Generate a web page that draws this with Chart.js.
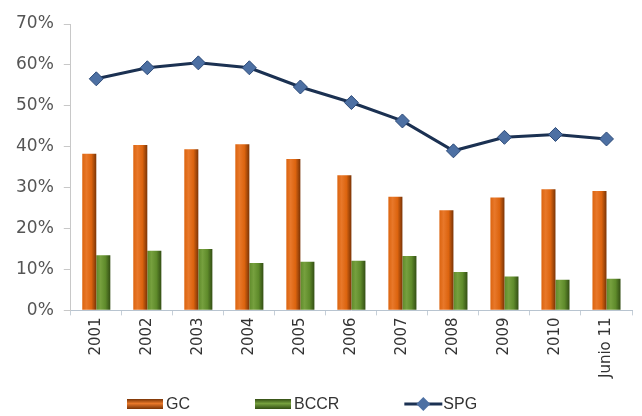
<!DOCTYPE html>
<html>
<head>
<meta charset="utf-8">
<script src="https://cdn.jsdelivr.net/npm/chart.js@4/dist/chart.umd.min.js"></script>
<style>
  html, body { margin: 0; padding: 0; background: #fff; }
  #wrap { width: 642px; height: 416px; }
</style>
</head>
<body>
<div id="wrap"><canvas id="chart"></canvas></div>
<script>
// values, in %
const years = ["2001", "2002", "2003", "2004", "2005", "2006", "2007", "2008", "2009", "2010", "Junio 11"];
const gcValues = [38.3, 40.4, 39.4, 40.6, 37.0, 33.0, 27.8, 24.5, 27.6, 29.6, 29.2];
const bccrValues = [13.5, 14.6, 15.0, 11.6, 11.9, 12.1, 13.3, 9.4, 8.3, 7.5, 7.7];
const spgValues = [56.6, 59.3, 60.5, 59.3, 54.6, 50.8, 46.3, 39.0, 42.3, 43.0, 41.9];
const yTicks = [0, 10, 20, 30, 40, 50, 60, 70];

const orange = "#dc640f";
const orangeLight = "#e8782a";
const orangeDark = "#7a3406";
const green = "#5f8b2b";
const greenLight = "#76a03e";
const greenDark = "#334e14";
const navy = "#1b3152";
const markerBlue = "#4d70a3";
const catPct = 0.55;

// horizontal shading for each bar, worked out from the category scale
function barFill(base, light, dark, side) {
  return function (ctx) {
    const x = ctx.chart.scales.x;
    if (!x || x.width === undefined) return base;
    const step = x.getPixelForValue(1) - x.getPixelForValue(0);
    const w = (step * catPct) / 2;
    const centre = x.getPixelForValue(ctx.dataIndex) + side * w / 2;
    const x0 = centre - w / 2;
    if (!isFinite(x0)) return base;
    const g = ctx.chart.ctx.createLinearGradient(x0, 0, x0 + w, 0);
    g.addColorStop(0, base);
    g.addColorStop(0.3, light);
    g.addColorStop(0.65, base);
    g.addColorStop(1, dark);
    return g;
  };
}

const legendItems = [
  { text: "GC", kind: "bar", base: orange, light: orangeLight, dark: orangeDark },
  { text: "BCCR", kind: "bar", base: green, light: greenLight, dark: greenDark },
  { text: "SPG", kind: "line" },
];

const bottomLegend = {
  id: "bottomLegend",
  afterDraw(chart) {
    const c = chart.ctx;
    const y = chart.height - 12;
    let x = 127;
    c.save();
    c.font = "16px 'Liberation Sans'";
    c.textBaseline = "middle";
    legendItems.forEach((item) => {
      if (item.kind === "bar") {
        const g = c.createLinearGradient(0, y - 5, 0, y + 5);
        g.addColorStop(0, item.dark);
        g.addColorStop(0.45, item.light);
        g.addColorStop(1, item.dark);
        c.fillStyle = g;
        c.fillRect(x, y - 5, 36, 10);
      } else {
        c.strokeStyle = navy;
        c.lineWidth = 3;
        c.beginPath();
        c.moveTo(x, y);
        c.lineTo(x + 38, y);
        c.stroke();
        c.fillStyle = markerBlue;
        c.beginPath();
        c.moveTo(x + 19, y - 7);
        c.lineTo(x + 26, y);
        c.lineTo(x + 19, y + 7);
        c.lineTo(x + 12, y);
        c.closePath();
        c.fill();
      }
      c.fillStyle = "#333";
      c.fillText(item.text, x + 39, y + 1);
      x += 39 + c.measureText(item.text).width + 65;
    });
    c.restore();
  },
};

new Chart(document.getElementById("chart"), {
  type: "bar",
  data: {
    labels: years,
    datasets: [
      {
        label: "GC",
        data: gcValues,
        backgroundColor: barFill(orange, orangeLight, orangeDark, -1),
        categoryPercentage: catPct,
        barPercentage: 1.0,
        order: 2,
      },
      {
        label: "BCCR",
        data: bccrValues,
        backgroundColor: barFill(green, greenLight, greenDark, 1),
        categoryPercentage: catPct,
        barPercentage: 1.0,
        order: 2,
      },
      {
        type: "line",
        label: "SPG",
        data: spgValues,
        borderColor: navy,
        borderWidth: 3,
        tension: 0,
        pointStyle: "rectRot",
        pointRadius: 7,
        pointBackgroundColor: markerBlue,
        pointBorderColor: "#2c4a78",
        pointBorderWidth: 1,
        order: 0,
      },
    ],
  },
  plugins: [bottomLegend],
  options: {
    responsive: true,
    maintainAspectRatio: false,
    animation: false,
    layout: { padding: { left: 6, right: 10, top: 24, bottom: 36 } },
    plugins: {
      tooltip: { enabled: false },
      legend: { display: false },
    },
    scales: {
      x: {
        offset: true,
        grid: {
          display: true,
          offset: true,
          drawOnChartArea: false,
          drawTicks: true,
          tickLength: 5,
          color: "#c6cfd8",
        },
        border: { color: "#b8c4d0", width: 1 },
        ticks: {
          minRotation: 90,
          maxRotation: 90,
          color: "#333",
          padding: 2,
          font: { family: "DejaVu Sans", size: 15 },
        },
      },
      y: {
        min: 0,
        max: 70,
        afterBuildTicks: (axis) => {
          axis.ticks = yTicks.map((v) => ({ value: v }));
        },
        grid: {
          display: true,
          drawOnChartArea: false,
          drawTicks: true,
          tickLength: 7,
          color: "#c8c8c8",
        },
        border: { color: "#c8c8c8", width: 1 },
        ticks: {
          color: "#555",
          padding: 10,
          font: { family: "DejaVu Sans", size: 17 },
          callback: (v) => v + "%",
        },
      },
    },
  },
});
</script>
</body>
</html>
